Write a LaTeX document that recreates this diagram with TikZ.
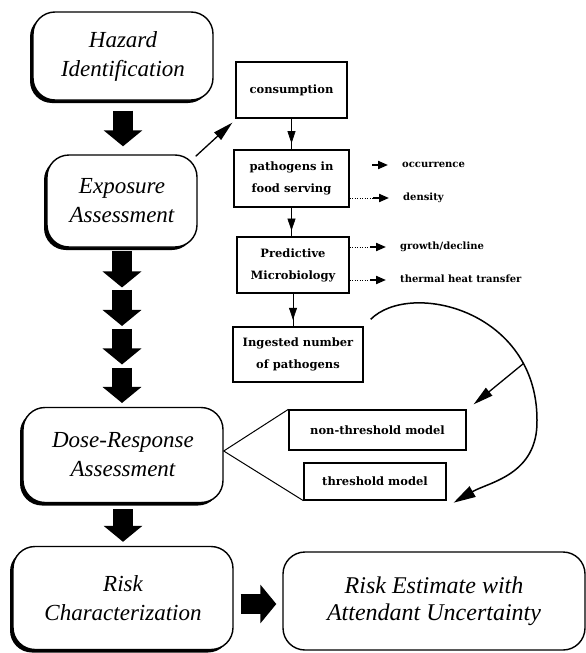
\documentclass[tikz,border=0pt]{standalone}
\usepackage{fontspec}
\setmainfont{Liberation Serif}
\newfontfamily\slabfont{DejaVu Serif}
\usetikzlibrary{arrows.meta,shadows,calc,decorations.markings}

\begin{document}
\begin{tikzpicture}[x=1pt, y=-1pt,
            stagebox/.style={draw, fill=white, line width=1.4pt, rounded corners=22pt, align=center, inner sep=0pt,
                font=\itshape\fontsize{23}{29}\selectfont},
            stage/.style={stagebox, drop shadow={shadow xshift=-3pt, shadow yshift=-3pt, fill=black, opacity=1}},
            stepbox/.style={draw, line width=1.3pt, align=center, inner sep=0pt,
                font=\slabfont\bfseries\fontsize{11.5}{22}\selectfont},
            factor/.style={anchor=west, inner sep=0pt, text height=1.5ex, text depth=0.3ex,
                font=\slabfont\bfseries\fontsize{10}{12}\selectfont},
            bigarrow/.style={line width=20pt, -{Triangle[length=16pt, width=38pt]}},
            dart/.style={line width=1.3pt, -{Triangle[length=20pt, width=10pt]}},
            pointer/.style={line width=2pt, -{Triangle[length=10pt, width=8pt]}},
            flow/.style={line width=0.6pt, decoration={markings, mark=at position 0.8 with {\arrow{Triangle[length=12pt, width=8pt]}}}, postaction=decorate},
            feedback/.style={line width=1.5pt, -{Triangle[length=22pt, width=12pt]}}]

    \useasboundingbox (0,0) rectangle (586,653);

    \node[stage, minimum width=180pt, minimum height=88pt] (hazard) at (123,56) {Hazard\\Identification};
    \node[stage, minimum width=150pt, minimum height=92pt] (exposure) at (122,201) {Exposure\\Assessment};
    \node[stage, minimum width=200pt, minimum height=95pt] (dose) at (123,455) {Dose-Response\\Assessment};
    \node[stage, minimum width=220pt, minimum height=103pt] (riskchar) at (123,598) {Risk\\Characterization};
    \node[stagebox, minimum width=302pt, minimum height=98pt, font=\itshape\fontsize{24}{27}\selectfont] (riskest) at (434,601) {Risk Estimate with\\Attendant Uncertainty};

    \node[stepbox, minimum width=111pt, minimum height=56pt] (consumption) at (291.5,90) {consumption};
    \node[stepbox, minimum width=115pt, minimum height=57pt] (pathogens) at (291.5,178.5) {pathogens in\\food serving};
    \node[stepbox, minimum width=112pt, minimum height=56pt] (predictive) at (293,265) {Predictive\\Microbiology};
    \node[stepbox, minimum width=130pt, minimum height=55pt] (ingested) at (298,354.5) {Ingested number\\of pathogens};
    \node[stepbox, minimum width=177pt, minimum height=40pt] (nonthreshold) at (377.5,430) {non-threshold model};
    \node[stepbox, minimum width=142pt, minimum height=37pt] (threshold) at (375,481.5) {threshold model};

    \node[factor] (occurrence) at (402,165) {occurrence};
    \node[factor] (density) at (403,198) {density};
    \node[factor] (growth) at (400,247) {growth/decline};
    \node[factor] (thermal) at (400,280) {thermal heat transfer};

    \draw[bigarrow, shorten <=10pt, shorten >=8pt] (hazard.south) -- (hazard.south |- exposure.north);
    \foreach \s [evaluate=\s as \a using 0.02+0.245*\s, evaluate=\s as \b using 0.25+0.242*\s] in {0,...,3}
        \draw[bigarrow] ($(exposure.south)!\a!(exposure.south |- dose.north)$) -- ($(exposure.south)!\b!(exposure.south |- dose.north)$);
    \draw[bigarrow, shorten <=6pt, shorten >=4pt] (dose.south) -- (dose.south |- riskchar.north);
    \draw[bigarrow, shorten <=7pt, shorten >=6pt] ([yshift=-6pt]riskchar.east) -- ([yshift=-6pt]riskchar.east -| riskest.west);

    \draw[dart] ([xshift=-2pt, yshift=-2pt]exposure.north east) -- ([xshift=-3pt, yshift=-4pt]consumption.south west);
    \foreach \u/\v in {consumption/pathogens, pathogens/predictive, predictive/ingested}
        \draw[flow] (\u.south) -- (\u.south |- \v.north);

    \foreach \f/\b in {occurrence/pathogens, density/pathogens, growth/predictive, thermal/predictive}
        \draw[pointer] ([xshift=-30pt]\f.west) -- ([xshift=-14pt]\f.west);
    \foreach \f/\b in {density/pathogens, growth/predictive, thermal/predictive}
        \draw[dotted, line width=0.5pt] (\b.east |- \f.west) -- ([xshift=-30pt]\f.west);

    \draw[line width=1pt] (nonthreshold.north west) -- ([yshift=4pt]dose.east) -- (threshold.south west);

    \draw[feedback] ([xshift=7pt, yshift=7pt]ingested.north east) .. controls (410,280) and (537,310) .. coordinate[pos=0.8] (curvepoint) (537,420)
        .. controls (538,475) and (489,482) .. ([xshift=7pt, yshift=-2pt]threshold.south east);
    \draw[dart] (curvepoint) -- ([xshift=7pt, yshift=5pt]nonthreshold.north east);
\end{tikzpicture}
\end{document}
